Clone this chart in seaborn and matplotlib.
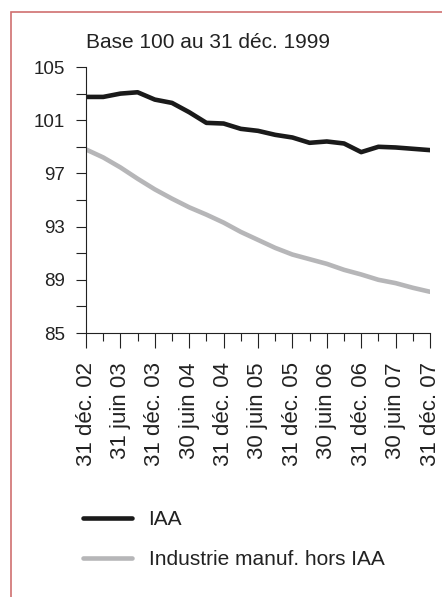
import matplotlib
matplotlib.use("Agg")
import matplotlib.pyplot as plt
import numpy as np
import pandas as pd
import seaborn as sns
from matplotlib.lines import Line2D
from matplotlib.patches import Rectangle

# quarterly points, 31 dec 2002 -> 31 dec 2007
quarters = list(range(21))
iaa = [102.75, 102.75, 103.0, 103.1, 102.55, 102.3, 101.6, 100.8, 100.75, 100.35, 100.2,
       99.9, 99.7, 99.3, 99.4, 99.25, 98.6, 99.0, 98.95, 98.85, 98.75]
manuf = [98.8, 98.2, 97.45, 96.6, 95.8, 95.1, 94.45, 93.9, 93.3, 92.6, 92.0,
         91.4, 90.9, 90.55, 90.2, 89.75, 89.4, 89.0, 88.75, 88.4, 88.1]
series_names = ["IAA", "Industrie manuf. hors IAA"]
tick_labels = ["31 déc. 02", "31 juin 03", "31 déc. 03", "30 juin 04", "31 déc. 04",
               "30 juin 05", "31 déc. 05", "30 juin 06", "31 déc. 06", "30 juin 07",
               "31 déc. 07"]
y_labels = [85, 89, 93, 97, 101, 105]

df = pd.concat([
    pd.DataFrame({"q": quarters, "value": iaa, "serie": series_names[0]}),
    pd.DataFrame({"q": quarters, "value": manuf, "serie": series_names[1]}),
])

sns.set_style("white")
plt.rcParams["font.family"] = ["Liberation Sans", "DejaVu Sans"]
TXT = "#222222"

fig = plt.figure(figsize=(4.42, 5.97), dpi=100)
ax = fig.add_axes([86 / 442, 1 - 333 / 597, (430 - 86) / 442, (333 - 67) / 597])

sns.lineplot(data=df, x="q", y="value", hue="serie", palette=["#1a1a1a", "#b6b6b8"],
             linewidth=3.3, ax=ax, legend=False)

ax.set_xlim(0, 20)
ax.set_ylim(85, 105)
ax.set_xticks(np.arange(0, 21, 2))
ax.set_xticklabels(tick_labels, rotation=90, fontsize=16, va="top", ha="center", color=TXT)
ax.set_xticks(np.arange(1, 21, 2), minor=True)
ax.set_yticks(y_labels)
ax.set_yticklabels([str(v) for v in y_labels], fontsize=13.5, color=TXT)
ax.set_yticks(np.arange(87, 105, 4), minor=True)
ax.tick_params(axis="x", which="major", length=11, width=0.8, direction="out", pad=10,
               bottom=True, color=TXT)
ax.tick_params(axis="x", which="minor", length=6, width=0.8, direction="out",
               bottom=True, color=TXT)
ax.tick_params(axis="y", which="both", length=7, width=0.8, direction="out", pad=8,
               left=True, color=TXT)
ax.set_xlabel("")
ax.set_ylabel("")
for side in ["top", "right"]:
    ax.spines[side].set_visible(False)
for side in ["left", "bottom"]:
    ax.spines[side].set_linewidth(0.8)
    ax.spines[side].set_color(TXT)

fig.text(86 / 442, 1 - 43 / 597, "Base 100 au 31 déc. 1999", fontsize=15,
         ha="left", va="center", color=TXT)

# legend
handles = [Line2D([], [], color="#1a1a1a", lw=3.3), Line2D([], [], color="#b6b6b8", lw=3.3)]
fig.legend(handles, series_names, loc="upper left", bbox_to_anchor=(83 / 442, 1 - 510 / 597),
           frameon=False, fontsize=15, handlelength=2.35, handletextpad=0.8,
           labelspacing=1.0, borderpad=0, borderaxespad=0, labelcolor=TXT)

# red frame (only top and left visible)
fig.patches.append(Rectangle((11 / 442, -0.1), 1.2, 1.1 - 12 / 597,
                             transform=fig.transFigure, fill=False,
                             edgecolor="#d07070", linewidth=1.2))

fig.savefig("out.png", dpi=100)
